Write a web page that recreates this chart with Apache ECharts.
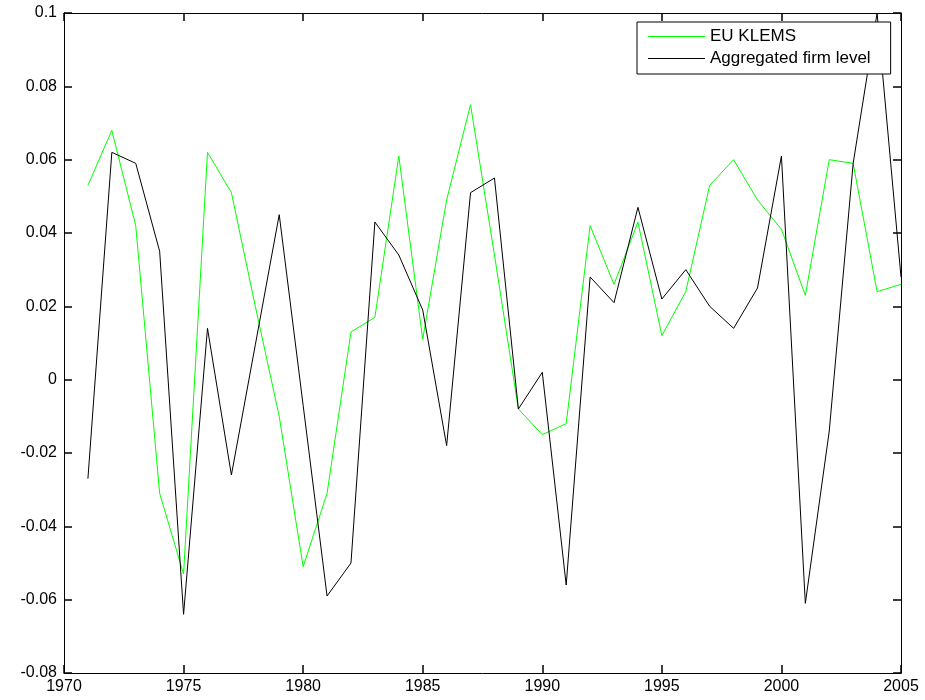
<!DOCTYPE html>
<html>
<head>
<meta charset="utf-8">
<script src="https://cdn.jsdelivr.net/npm/echarts@6/dist/echarts.min.js"></script>
<style>
  html, body { margin: 0; padding: 0; background: #fff; }
  #chart { width: 925px; height: 700px; }
</style>
</head>
<body>
<div id="chart"></div>
<script>
var years = [1971, 1972, 1973, 1974, 1975, 1976, 1977, 1978, 1979, 1980,
    1981, 1982, 1983, 1984, 1985, 1986, 1987, 1988, 1989, 1990,
    1991, 1992, 1993, 1994, 1995, 1996, 1997, 1998, 1999, 2000,
    2001, 2002, 2003, 2004, 2005];

var euKlems = [0.053, 0.068, 0.042, -0.031, -0.053, 0.062, 0.051, 0.020, -0.010, -0.051,
    -0.031, 0.013, 0.017, 0.061, 0.011, 0.049, 0.075, 0.034, -0.008, -0.015,
    -0.012, 0.042, 0.026, 0.043, 0.012, 0.024, 0.053, 0.060, 0.049, 0.041,
    0.023, 0.060, 0.059, 0.024, 0.026];

var firmLevel = [-0.027, 0.062, 0.059, 0.035, -0.064, 0.014, -0.026, 0.0095, 0.045, -0.007,
    -0.059, -0.050, 0.043, 0.034, 0.019, -0.018, 0.051, 0.055, -0.008, 0.002,
    -0.056, 0.028, 0.021, 0.047, 0.022, 0.030, 0.020, 0.014, 0.025, 0.061,
    -0.061, -0.014, 0.059, 0.100, 0.028];

var seriesNames = ['EU KLEMS', 'Aggregated firm level'];

(function () {
    var dom = document.getElementById('chart');
    var myChart = echarts.init(dom);

    function pairs(values) {
        return years.map(function (y, i) { return [y, values[i]]; });
    }

    var axisColor = '#000';
    var font = 'Liberation Sans, Arial, sans-serif';

    // 朝内的短刻度线，四条边都画
    function tick() {
        return { show: true, inside: true, length: 8, lineStyle: { color: '#000', width: 1.5 } };
    }

    var option = {
        animation: false,
        grid: {
            left: 64,
            right: 24,
            top: 13,
            bottom: 27
        },
        legend: {
            left: 637,
            top: 22,
            orient: 'vertical',
            backgroundColor: '#fff',
            borderColor: '#000',
            borderWidth: 1,
            padding: [6, 20, 7, 11],
            itemGap: 5,
            itemWidth: 57,
            itemHeight: 1,
            icon: 'rect',
            textStyle: {
                color: '#000',
                fontSize: 17,
                fontFamily: font
            },
            data: seriesNames
        },
        xAxis: [{
            type: 'value',
            min: 1970,
            max: 2005,
            interval: 5,
            position: 'bottom',
            axisLine: { show: true, onZero: false, lineStyle: { color: axisColor, width: 1 } },
            axisTick: tick(),
            axisLabel: {
                color: '#000', fontSize: 16, fontFamily: font, margin: 6,
                formatter: function (v) { return String(v); }
            },
            splitLine: { show: false }
        }, {
            type: 'value',
            min: 1970,
            max: 2005,
            interval: 5,
            position: 'top',
            axisLine: { show: true, onZero: false, lineStyle: { color: axisColor, width: 1 } },
            axisTick: tick(),
            axisLabel: { show: false },
            splitLine: { show: false }
        }],
        yAxis: [{
            type: 'value',
            min: -0.08,
            max: 0.1,
            interval: 0.02,
            position: 'left',
            axisLine: { show: true, onZero: false, lineStyle: { color: axisColor, width: 1 } },
            axisTick: tick(),
            axisLabel: {
                color: '#000',
                fontSize: 16,
                fontFamily: font,
                margin: 7,
                formatter: function (v) {
                    return String(Math.round(v * 100) / 100);
                }
            },
            splitLine: { show: false }
        }, {
            type: 'value',
            min: -0.08,
            max: 0.1,
            interval: 0.02,
            position: 'right',
            axisLine: { show: true, onZero: false, lineStyle: { color: axisColor, width: 1 } },
            axisTick: tick(),
            axisLabel: { show: false },
            splitLine: { show: false }
        }],
        series: [{
            name: seriesNames[0],
            type: 'line',
            data: pairs(euKlems),
            symbol: 'none',
            lineStyle: { color: '#00ff00', width: 1 },
            itemStyle: { color: '#00ff00' },
            z: 2
        }, {
            name: seriesNames[1],
            type: 'line',
            data: pairs(firmLevel),
            symbol: 'none',
            lineStyle: { color: '#000', width: 1 },
            itemStyle: { color: '#000' },
            z: 3
        }]
    };

    if (option && typeof option === 'object') {
        myChart.setOption(option);
    }

    window.addEventListener('resize', function () {
        myChart.resize();
    });
})();
</script>
</body>
</html>
